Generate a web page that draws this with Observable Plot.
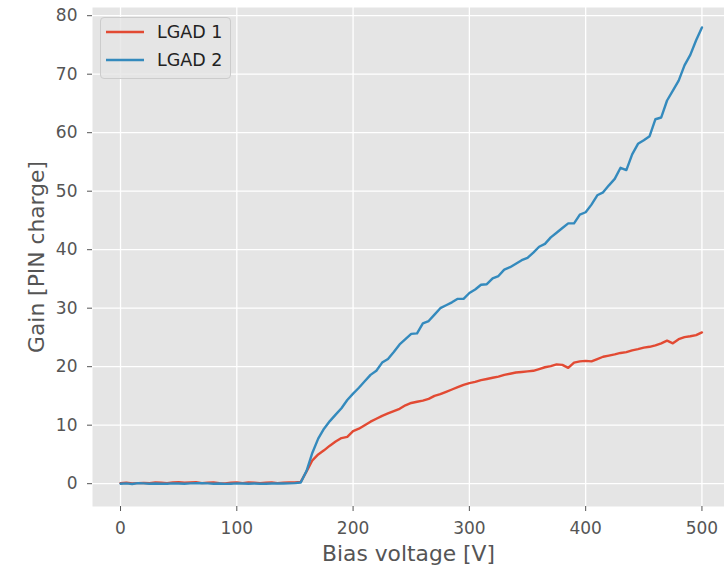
<!DOCTYPE html>
<html>
<head>
<meta charset="utf-8">
<script src="https://cdn.jsdelivr.net/npm/d3@7"></script>
<script src="https://cdn.jsdelivr.net/npm/@observablehq/plot@0.6"></script>
<style>
  body { margin: 0; background: white; }
  #wrap { position: relative; width: 724px; height: 566px; font-family: "DejaVu Sans", sans-serif; }
  #wrap svg g[aria-label="x-axis label"] text,
  #wrap svg g[aria-label="y-axis label"] text { font-size: 21.8px; }
  #legend {
    position: absolute; left: 100px; top: 17px; width: 129px; height: 60px;
    background: rgba(229,229,229,0.8); border: 1px solid #cccccc; border-radius: 4px;
    font-size: 17.5px; color: #222;
  }
  .item { position: absolute; left: 0; height: 24px; display: flex; align-items: center; }
  .item svg { margin-left: 5px; margin-right: 13px; }
</style>
</head>
<body>
<div id="wrap"></div>
<script>
const voltages = [0,5,10,15,20,25,30,35,40,45,50,55,60,65,70,75,80,85,90,95,100,105,110,115,120,125,130,135,140,145,150,155,160,165,170,175,180,185,190,195,200,205,210,215,220,225,230,235,240,245,250,255,260,265,270,275,280,285,290,295,300,305,310,315,320,325,330,335,340,345,350,355,360,365,370,375,380,385,390,395,400,405,410,415,420,425,430,435,440,445,450,455,460,465,470,475,480,485,490,495,500];

const lgad1 = [0.1,0.15,0.05,0.1,0.12,0.08,0.2,0.15,0.1,0.2,0.25,0.15,0.2,0.25,0.1,0.15,0.2,0.1,0.05,0.15,0.2,0.1,0.2,0.15,0.1,0.15,0.2,0.1,0.15,0.2,0.2,
  0.3,2.1,4.0,5.0,5.7,6.5,7.2,7.8,8.0,9.0,9.4,10.0,10.6,11.1,11.6,12.0,12.4,12.8,13.4,13.8,14.0,14.2,14.5,15.0,15.3,15.7,16.1,16.5,16.9,17.2,17.4,17.7,17.9,18.1,18.3,18.6,18.8,19.0,19.1,19.2,19.3,19.6,19.9,20.1,20.4,20.3,19.8,20.7,20.9,21.0,20.9,21.3,21.7,21.9,22.1,22.35,22.5,22.8,23.0,23.25,23.4,23.65,24.0,24.45,24.0,24.7,25.05,25.2,25.4,25.85];

const lgad2 = [0.0,0.05,-0.05,0.1,0.05,0.0,0.02,-0.02,0.0,0.05,0.03,0.0,0.05,0.08,0.1,0.05,0.0,0.02,-0.03,0.0,0.05,0.02,0.0,0.03,0.0,-0.02,0.02,0.05,0.03,0.05,0.1,
  0.2,2.2,5.3,7.7,9.4,10.7,11.8,12.9,14.3,15.4,16.4,17.5,18.6,19.3,20.7,21.3,22.5,23.8,24.7,25.6,25.7,27.4,27.8,28.9,30.0,30.5,31.0,31.6,31.6,32.6,33.2,34.0,34.1,35.1,35.5,36.6,37.0,37.6,38.2,38.6,39.5,40.5,41.0,42.1,42.9,43.7,44.5,44.5,46.0,46.4,47.7,49.3,49.8,51.0,52.1,54.0,53.6,56.3,58.1,58.7,59.4,62.3,62.6,65.5,67.2,68.9,71.5,73.3,75.8,78.0];

const seriesNames = ["LGAD 1", "LGAD 2"];
const seriesColors = ["#E24A33", "#348ABD"];
const xTicks = [0, 100, 200, 300, 400, 500];
const yTicks = [0, 10, 20, 30, 40, 50, 60, 70, 80];

const data = [];
[lgad1, lgad2].forEach((vals, s) => {
  vals.forEach((g, i) => data.push({V: voltages[i], G: g, series: seriesNames[s]}));
});

const chart = Plot.plot({
  width: 724,
  height: 566,
  marginLeft: 92,
  marginRight: 0,
  marginTop: 7,
  marginBottom: 60,
  style: {fontFamily: "DejaVu Sans", fontSize: "17px", background: "white", color: "#555"},
  x: {domain: [-24.1, 519.4]},
  y: {domain: [-3.9, 81.4]},
  color: {domain: seriesNames, range: seriesColors},
  marks: [
    Plot.frame({fill: "#E5E5E5", stroke: null}),
    Plot.gridX(xTicks, {stroke: "white", strokeOpacity: 1, strokeWidth: 1.3}),
    Plot.gridY(yTicks, {stroke: "white", strokeOpacity: 1, strokeWidth: 1.3}),
    Plot.axisX(xTicks, {tickSize: 5, tickPadding: 10, stroke: "#555", fill: "#555", fontSize: 17,
      label: "Bias voltage [V]", labelAnchor: "center", labelArrow: "none", labelOffset: 54}),
    Plot.axisY(yTicks, {tickSize: 5, tickPadding: 10, stroke: "#555", fill: "#555", fontSize: 17,
      label: "Gain [PIN charge]", labelAnchor: "center", labelArrow: "none", labelOffset: 64}),
    Plot.line(data, {x: "V", y: "G", stroke: "series", z: "series", strokeWidth: 2.4})
  ]
});

const wrap = document.getElementById("wrap");
wrap.appendChild(chart);

const legend = document.createElement("div");
legend.id = "legend";
seriesNames.forEach((name, i) => {
  const item = document.createElement("div");
  item.className = "item";
  item.style.top = (2 + i * 28) + "px";
  item.innerHTML = `<svg width="38" height="4"><line x1="0" y1="2" x2="38" y2="2" stroke="${seriesColors[i]}" stroke-width="2.4"/></svg><span>${name}</span>`;
  legend.appendChild(item);
});
wrap.appendChild(legend);
</script>
</body>
</html>
